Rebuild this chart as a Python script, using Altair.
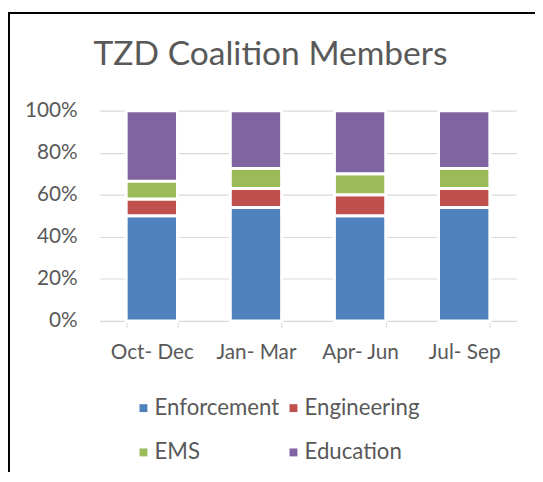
import altair as alt
import pandas as pd

categories = ["Oct- Dec", "Jan- Mar", "Apr- Jun", "Jul- Sep"]
series = ["Enforcement", "Engineering", "EMS", "Education"]
colors = ["#4F81BD", "#C0504D", "#9BBB59", "#8064A2"]

enforcement = [50, 54, 50, 54]
engineering = [8, 9, 10, 9]
ems = [8.5, 9.5, 10, 9.5]
education = [33.5, 27.5, 30, 27.5]

rows = []
for i, c in enumerate(categories):
    for j, (s, vals) in enumerate(zip(series, [enforcement, engineering, ems, education])):
        rows.append({"quarter": c, "series": s, "order": j, "value": vals[i]})
df = pd.DataFrame(rows)

W, H = 422, 213
TXT = "#595959"
GRID = "#D9D9D9"
FONT = "Lato"

bars = alt.Chart(df).mark_bar(stroke="white", strokeWidth=3).encode(
    x=alt.X(
        "quarter:N", sort=categories, title=None,
        scale=alt.Scale(paddingInner=0.507, paddingOuter=0.2535),
        axis=alt.Axis(labelAngle=0, tickBand="extent", domainColor=GRID, tickColor=GRID,
                      tickSize=7, labelPadding=14, grid=False, labelFontSize=21,
                      labelColor=TXT, labelFont=FONT),
    ),
    y=alt.Y(
        "value:Q", stack="normalize", title=None,
        scale=alt.Scale(domain=[0, 1]),
        axis=alt.Axis(values=[0, 0.2, 0.4, 0.6, 0.8, 1], format=".0%", domain=False,
                      ticks=False, labelPadding=23, gridColor=GRID, gridWidth=1.2,
                      labelFontSize=21, labelColor=TXT, labelFont=FONT),
    ),
    color=alt.Color(
        "series:N",
        scale=alt.Scale(domain=series, range=colors),
        legend=alt.Legend(title=None, orient="none", legendX=33, legendY=290,
                          direction="horizontal",
                          columns=2, columnPadding=3, rowPadding=22,
                          symbolType="square", symbolSize=64, symbolStrokeWidth=0,
                          labelOffset=0, labelFontSize=22.5, labelColor=TXT, labelFont=FONT),
    ),
    order=alt.Order("order:Q"),
)

frame_df = pd.DataFrame({"k": [0]})
left = alt.Chart(frame_df).mark_rule(color="black", strokeWidth=2).encode(
    x=alt.value(-92), y=alt.value(-100), y2=alt.value(H + 200))
top = alt.Chart(frame_df).mark_rule(color="black", strokeWidth=2).encode(
    x=alt.value(-93), x2=alt.value(W + 40), y=alt.value(-99))

chart = alt.layer(bars, left, top).properties(
    width=W, height=H,
    title=alt.TitleParams("TZD Coalition Members", fontSize=34, font=FONT, color=TXT,
                          fontWeight="normal", anchor="middle", dx=-38, offset=-89,
                          baseline="alphabetic"),
    padding={"left": 93, "top": 101, "right": 19, "bottom": 150},
    autosize=alt.AutoSizeParams(type="none"),
).configure_view(stroke=None)

chart.save("out.html", embed_options={"renderer": "svg", "actions": False})
